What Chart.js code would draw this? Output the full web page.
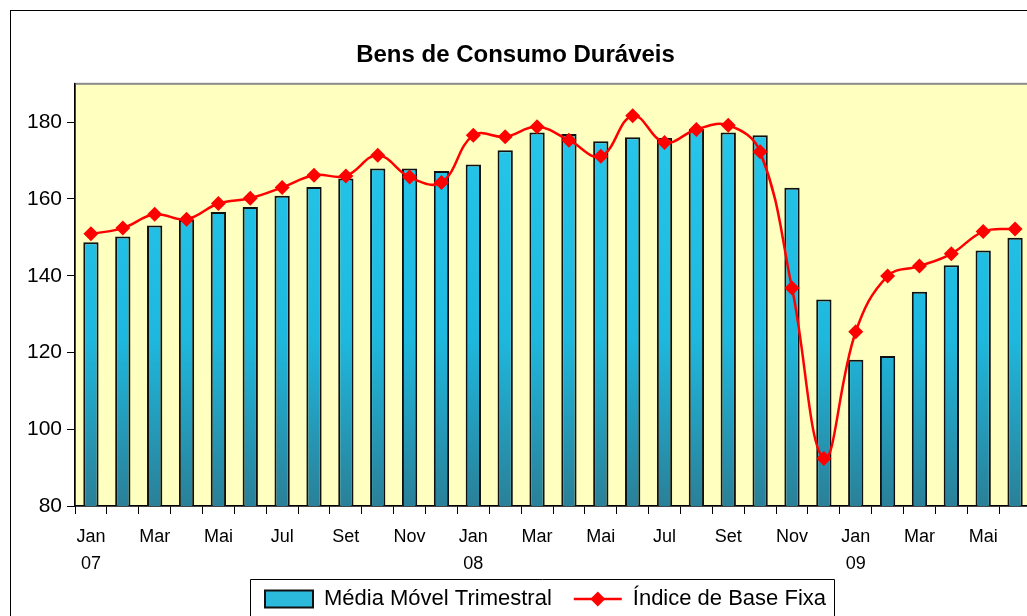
<!DOCTYPE html>
<html>
<head>
<meta charset="utf-8">
<script src="https://cdn.jsdelivr.net/npm/chart.js@4.4.1/dist/chart.umd.min.js"></script>
<style>
  html, body { margin: 0; padding: 0; background: #fff; overflow: hidden; }
  canvas { position: absolute; left: 0; top: 0; }
</style>
</head>
<body>
<canvas id="duraveis" width="1084" height="660"></canvas>
<script>
const categories = [
  'jan/07', 'fev/07', 'mar/07', 'abr/07', 'mai/07', 'jun/07', 'jul/07', 'ago/07', 'set/07', 'out/07', 'nov/07', 'dez/07',
  'jan/08', 'fev/08', 'mar/08', 'abr/08', 'mai/08', 'jun/08', 'jul/08', 'ago/08', 'set/08', 'out/08', 'nov/08', 'dez/08',
  'jan/09', 'fev/09', 'mar/09', 'abr/09', 'mai/09', 'jun/09'
];
const xTickLabels = [
  ['Jan', '07'], '', 'Mar', '', 'Mai', '', 'Jul', '', 'Set', '', 'Nov', '',
  ['Jan', '08'], '', 'Mar', '', 'Mai', '', 'Jul', '', 'Set', '', 'Nov', '',
  ['Jan', '09'], '', 'Mar', '', 'Mai', ''
];
const mediaMovel = [
  148.7, 150.2, 153.1, 154.6, 156.6, 157.9, 160.8, 163.1, 165.3, 167.9, 167.9, 167.3,
  169.0, 172.7, 177.3, 176.9, 175.0, 176.1, 175.9, 178.2, 177.3, 176.6, 162.9, 133.8,
  118.1, 119.1, 135.8, 142.7, 146.6, 149.9
];
const indiceBaseFixa = [
  150.9, 152.4, 156.0, 154.7, 158.8, 160.2, 163.0, 166.2, 166.0, 171.4, 165.7, 164.3,
  176.6, 176.2, 178.8, 175.3, 171.1, 181.7, 174.7, 178.1, 179.2, 172.3, 136.8, 92.4,
  125.4, 139.9, 142.5, 145.7, 151.5, 152.2
];
const yTicks = [80, 100, 120, 140, 160, 180];

const fontFamily = '"Liberation Sans", Arial, sans-serif';

function barGradient(context) {
  const area = context.chart.chartArea;
  if (!area) return '#22bfe2';
  const g = context.chart.ctx.createLinearGradient(0, area.top, 0, area.bottom);
  g.addColorStop(0, '#28c8ec');
  g.addColorStop(0.6, '#1eb8de');
  g.addColorStop(1, '#2a8098');
  return g;
}

// yellow plot area, grey frame and outer border
const plotBackground = {
  id: 'plotBackground',
  beforeDraw(chart) {
    const { ctx, chartArea: a } = chart;
    ctx.save();
    ctx.fillStyle = '#ffffff';
    ctx.fillRect(0, 0, chart.width, chart.height);
    ctx.strokeStyle = '#000';
    ctx.lineWidth = 1;
    ctx.strokeRect(10.5, 10.5, chart.width + 50, chart.height + 50);
    ctx.fillStyle = '#ffffc0';
    ctx.fillRect(a.left, a.top, a.right - a.left, a.bottom - a.top);
    ctx.strokeStyle = '#8a8a8a';
    ctx.lineWidth = 2;
    ctx.strokeRect(a.left, a.top, a.right - a.left + 20, a.bottom - a.top);
    ctx.restore();
  }
};

// nudge the legend up under the axis labels and a bit right, like the original
const legendPlace = {
  id: 'legendPlace',
  afterLayout(chart) {
    const lg = chart.legend;
    if (!lg) return;
    lg.top -= 12; lg.bottom -= 12;
    lg.left += 30; lg.right += 30;
  }
};

// box around the legend and the line-with-diamond swatch
const legendFrame = {
  id: 'legendFrame',
  afterDraw(chart) {
    const lg = chart.legend;
    if (!lg || !lg.legendHitBoxes || !lg.legendHitBoxes.length) return;
    const boxes = lg.legendHitBoxes;
    const ctx = chart.ctx;
    const left = boxes[0].left - 15;
    const right = boxes[boxes.length - 1].left + boxes[boxes.length - 1].width + 8;
    const top = boxes[0].top - 9;
    ctx.save();
    ctx.strokeStyle = '#000';
    ctx.lineWidth = 1;
    ctx.beginPath();
    ctx.moveTo(Math.round(left) + 0.5, chart.height + 10);
    ctx.lineTo(Math.round(left) + 0.5, Math.round(top) + 0.5);
    ctx.lineTo(Math.round(right) + 0.5, Math.round(top) + 0.5);
    ctx.lineTo(Math.round(right) + 0.5, chart.height + 10);
    ctx.stroke();

    const hb = boxes[1];
    const bw = chart.options.plugins.legend.labels.boxWidth;
    const cy = hb.top + hb.height / 2;
    ctx.strokeStyle = '#ff0000';
    ctx.lineWidth = 2.5;
    ctx.beginPath();
    ctx.moveTo(hb.left, cy);
    ctx.lineTo(hb.left + bw, cy);
    ctx.stroke();
    ctx.fillStyle = '#ff0000';
    ctx.beginPath();
    const cx = hb.left + bw / 2, r = 7.5;
    ctx.moveTo(cx, cy - r);
    ctx.lineTo(cx + r, cy);
    ctx.lineTo(cx, cy + r);
    ctx.lineTo(cx - r, cy);
    ctx.closePath();
    ctx.fill();
    ctx.restore();
  }
};

new Chart(document.getElementById('duraveis'), {
  data: {
    labels: categories,
    datasets: [
      {
        type: 'bar',
        label: 'Média Móvel Trimestral',
        data: mediaMovel,
        backgroundColor: barGradient,
        borderColor: '#111111',
        borderWidth: 2,
        borderSkipped: false,
        barPercentage: 0.48,
        categoryPercentage: 1,
        order: 1
      },
      {
        type: 'line',
        label: 'Índice de Base Fixa',
        data: indiceBaseFixa,
        borderColor: '#ff0000',
        backgroundColor: '#ff0000',
        borderWidth: 2.5,
        tension: 0.4,
        pointStyle: 'rectRot',
        pointRadius: 7.5,
        pointBorderWidth: 0,
        pointBackgroundColor: '#ff0000',
        order: 0
      }
    ]
  },
  options: {
    responsive: false,
    animation: false,
    layout: { padding: { left: 0, right: 53, top: 0, bottom: 28 } },
    scales: {
      x: {
        offset: true,
        grid: { offset: true, drawOnChartArea: false, tickLength: 8, color: '#000', tickWidth: 1 },
        border: { color: '#000', width: 1.5 },
        ticks: {
          autoSkip: false,
          maxRotation: 0,
          padding: 10,
          color: '#000',
          font: { family: fontFamily, size: 18, lineHeight: 1.5 },
          callback: (v, i) => xTickLabels[i]
        },
        afterFit(scale) { scale.height = 72; }
      },
      y: {
        min: 80,
        max: 190,
        grid: { drawOnChartArea: false, tickLength: 8, color: '#000' },
        border: { color: '#000', width: 1.5 },
        afterBuildTicks(scale) { scale.ticks = yTicks.map(v => ({ value: v })); },
        ticks: {
          padding: 5,
          color: '#000',
          font: { family: fontFamily, size: 21 }
        },
        afterFit(scale) { scale.width = 75; }
      }
    },
    plugins: {
      title: {
        display: true,
        text: 'Bens de Consumo Duráveis',
        color: '#000',
        font: { family: fontFamily, size: 24, weight: 'bold', lineHeight: 1.2 },
        padding: { top: 41, bottom: 14 }
      },
      legend: {
        position: 'bottom',
        labels: {
          boxWidth: 48,
          boxHeight: 17,
          padding: 22,
          color: '#000',
          font: { family: fontFamily, size: 22 },
          generateLabels: () => [
            { text: 'Média Móvel Trimestral', fillStyle: '#2bbadc', strokeStyle: '#111', lineWidth: 2, datasetIndex: 0 },
            { text: 'Índice de Base Fixa', fillStyle: 'rgba(0,0,0,0)', strokeStyle: 'rgba(0,0,0,0)', lineWidth: 0, datasetIndex: 1 }
          ]
        }
      },
      tooltip: { enabled: false }
    }
  },
  plugins: [plotBackground, legendPlace, legendFrame]
});
</script>
</body>
</html>
